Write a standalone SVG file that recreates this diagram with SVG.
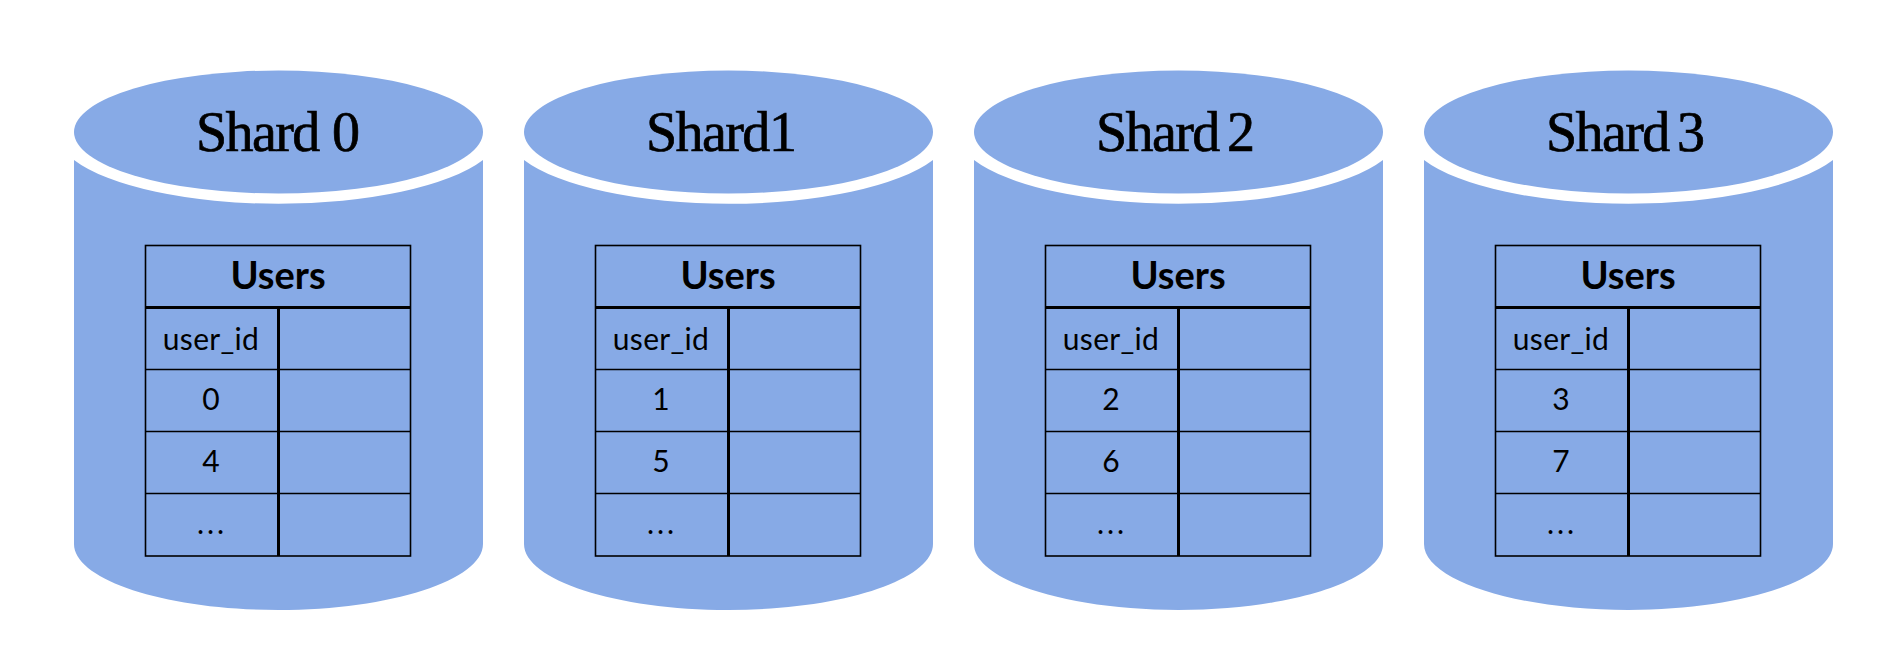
<svg xmlns="http://www.w3.org/2000/svg" width="1898" height="660" viewBox="0 0 1898 660">
<style>
.c{fill:#87AAE6}
.l{stroke:#000;stroke-width:1.6;fill:none}
.k{stroke:#000;stroke-width:3;fill:none}
text{fill:#000;text-anchor:middle}
.t{font-family:"Liberation Serif",serif;font-size:56px;letter-spacing:-1.6px;stroke:#000;stroke-width:.7;text-anchor:start}
.h{font-family:"Lato",sans-serif;font-size:38px;font-weight:700}
.b{font-family:"Lato",sans-serif;font-size:30px;letter-spacing:.3px}
.d{font-family:"Lato",sans-serif;font-size:30px;letter-spacing:3px}
</style>
<defs>
<g id="cyl">
<ellipse class="c" cx="278.5" cy="132" rx="204.500" ry="61.500"/>
<path class="c" d="M74 160A222 71.700 0 0 0 483 160V544C483 580 391 610 278.500 610S74 580 74 544Z"/>
<rect class="l" x="145.500" y="245.500" width="265" height="310.500"/>
<path class="l" d="M145.500 369.500H410.500M145.500 431.500H410.500M145.500 493.500H410.500"/>
<path class="k" d="M145.500 307.500H410.500M278.500 307.500V556"/>
</g>
</defs>
<g id="shard0"><use href="#cyl"/>
<text class="t" x="196" y="151" word-spacing="1">Shard 0</text><text class="h" x="278" y="289">Users</text><text class="b" x="211" y="349.500">user_id</text><text class="b" x="211" y="410">0</text><text class="b" x="211" y="472">4</text><text class="d" x="212" y="534">...</text></g>
<g id="shard1" transform="translate(450)"><use href="#cyl"/>
<text class="t" x="196" y="151" word-spacing="-12">Shard 1</text><text class="h" x="278" y="289">Users</text><text class="b" x="211" y="349.500">user_id</text><text class="b" x="211" y="410">1</text><text class="b" x="211" y="472">5</text><text class="d" x="212" y="534">...</text></g>
<g id="shard2" transform="translate(900)"><use href="#cyl"/>
<text class="t" x="196" y="151" word-spacing="-4">Shard 2</text><text class="h" x="278" y="289">Users</text><text class="b" x="211" y="349.500">user_id</text><text class="b" x="211" y="410">2</text><text class="b" x="211" y="472">6</text><text class="d" x="212" y="534">...</text></g>
<g id="shard3" transform="translate(1350)"><use href="#cyl"/>
<text class="t" x="196" y="151" word-spacing="-4">Shard 3</text><text class="h" x="278" y="289">Users</text><text class="b" x="211" y="349.500">user_id</text><text class="b" x="211" y="410">3</text><text class="b" x="211" y="472">7</text><text class="d" x="212" y="534">...</text></g>
<g id="connectors"/>
</svg>
